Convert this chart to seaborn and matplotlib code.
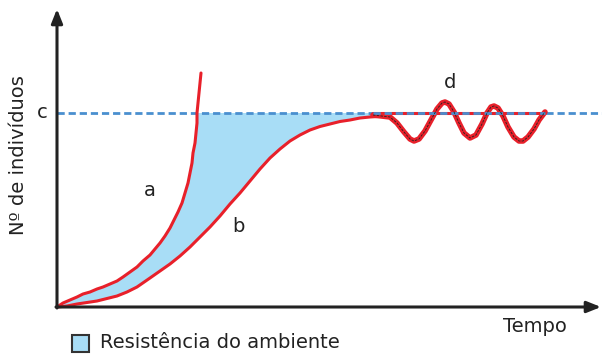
import numpy as np
import matplotlib
matplotlib.use("Agg")
import matplotlib.pyplot as plt
import seaborn as sns
from matplotlib.patches import Rectangle

sns.set_theme(style="white")
plt.rcParams["font.family"] = ["DejaVu Sans"]

# ── Data (time, number of individuals) ──────────────────────────────────────
CAPACITY = 194  # level "c"

# a: exponential growth (no environmental resistance)
a_t = [0, 6, 13, 20, 26, 33, 40, 46, 53, 60, 66, 73, 80, 86, 93, 98, 103,
       108, 113, 117, 121, 125, 128, 131, 133, 135, 136, 138, 139, 140,
       140, 141, 142, 143, 144]
a_n = [0, 4, 7, 10, 13, 15, 18, 20, 23, 26, 30, 35, 40, 46, 52, 58, 64,
       71, 79, 87, 95, 104, 114, 124, 134, 144, 154, 164, 174, 184,
       194, 204, 214, 224, 234]

# b: logistic growth
b_t = [0, 10, 20, 30, 40, 50, 60, 70, 80, 93, 103, 113, 123, 133, 143, 153,
       163, 173, 183, 193, 203, 213, 223, 233, 243, 253, 263, 273, 283, 293,
       303, 313, 328]
b_n = [0, 1, 3, 4.5, 6, 8.5, 11, 15, 20, 29, 36, 43, 51, 60, 70, 80,
       91, 103, 114, 126, 138, 149, 158, 166, 172, 177, 180.5, 183, 185.5, 187,
       189, 190, 191]

# d: oscillation around the carrying capacity
d_t = [316, 333, 340, 347, 353, 357, 362, 368, 374, 380, 385, 388, 392, 397,
       402, 407, 413, 419, 425, 430, 434, 437, 441, 446, 451, 457, 462, 466,
       471, 477, 482, 488]
d_n = [192, 190, 184, 175, 168, 166, 168, 176, 187, 198, 204, 205, 203, 195,
       184, 174, 169, 172, 183, 194, 200, 201, 199, 191, 180, 170, 166, 166,
       170, 178, 187, 195]

flat_t = [316, 488]
flat_n = [194.5, 194.5]

RED = "#e8202a"
BLUE_FILL = "#a8ddf6"
DASH = "#4a8fcf"
INK = "#222222"

fig = plt.figure(figsize=(6.02, 3.56), dpi=100)
ax = fig.add_axes([0, 0, 1, 1])
ax.set_xlim(-57, 545)
ax.set_ylim(-49, 307)
ax.axis("off")

# shaded "resistência do ambiente": between a (capped at c) and b
cut = a_n.index(CAPACITY) + 1
poly_t = a_t[:cut] + [b_t[-1]] + b_t[::-1]
poly_n = a_n[:cut] + [CAPACITY] + b_n[::-1]
ax.fill(poly_t, poly_n, color=BLUE_FILL, lw=0, zorder=1)

# carrying capacity line
ax.plot([0, 545], [CAPACITY, CAPACITY], color=DASH, lw=2.0,
        dashes=(2.6, 1.4), zorder=2)

# curves
line_kw = dict(sort=False, estimator=None, color=RED, ax=ax)
sns.lineplot(x=a_t, y=a_n, lw=2.2, zorder=3, **line_kw)
sns.lineplot(x=b_t, y=b_n, lw=2.2, zorder=3, **line_kw)
sns.lineplot(x=flat_t, y=flat_n, lw=2.2, zorder=3, **line_kw)
sns.lineplot(x=d_t, y=d_n, lw=4.0, zorder=4, **line_kw)
for ln in ax.get_lines():
    ln.set_solid_joinstyle("round")
    ln.set_solid_capstyle("round")
ax.plot(d_t, d_n, color=INK, lw=0.6, dashes=(3, 1.5), zorder=5)
ax.plot(flat_t, flat_n, color=DASH, lw=2.0, dashes=(2.6, 1.4), zorder=4.5)

# axes with arrows
arrow = dict(arrowstyle="-|>,head_width=0.28,head_length=0.7",
             color=INK, lw=2.2, shrinkA=0, shrinkB=0)
ax.annotate("", xy=(0, 298), xytext=(0, -1), arrowprops=arrow)
ax.annotate("", xy=(544, 0), xytext=(-1, 0), arrowprops=arrow)

# labels
fs = 14
ax.text(-15, CAPACITY, "c", fontsize=fs, color=INK, ha="center", va="center")
ax.text(93, 116, "a", fontsize=fs, color=INK, ha="center", va="center")
ax.text(181, 80, "b", fontsize=fs, color=INK, ha="center", va="center")
ax.text(393, 224, "d", fontsize=fs, color=INK, ha="center", va="center")
ax.text(478, -19, "Tempo", fontsize=fs, color=INK, ha="center", va="center")
ax.text(-38, 152, "Nº de indivíduos", fontsize=fs, color=INK,
        ha="center", va="center", rotation=90)

ax.add_patch(Rectangle((15, -45), 17, 17, facecolor=BLUE_FILL,
                       edgecolor="#333333", lw=1.5, zorder=3, clip_on=False))
ax.text(43, -36, "Resistência do ambiente", fontsize=fs, color=INK,
        ha="left", va="center")

fig.savefig("out.png", dpi=100)
